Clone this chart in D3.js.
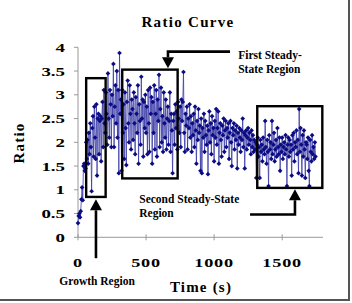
<!DOCTYPE html>
<html lang="en">
<head>
    <meta charset="UTF-8">
    <title>Ratio Curve</title>
    <script src="https://d3js.org/d3.v7.min.js"></script>
    <style>
        body {
            margin: 0;
            padding: 0;
            background: #fff;
        }

        svg text {
            font-family: "Liberation Serif", "Times New Roman", serif;
            font-weight: bold;
            fill: #000;
        }
    </style>
</head>
<body>
    <svg width="352" height="303"></svg>

    <script>
        // readings every 5 s, starting at t = 0
        const sampleStep = 5;
        const ratio = [
            0.30, 0.45, 0.50, 0.42, 0.55, 0.80, 1.05, 0.78, 1.50, 1.55,
            1.40, 1.45, 2.00, 1.65, 2.05, 1.55, 2.20, 1.75, 2.40, 1.90,
            0.97, 2.30, 2.55, 1.70, 2.75, 2.10, 1.65, 2.80, 1.30, 2.50,
            2.60, 1.75, 2.45, 2.55, 1.60, 2.50, 2.85, 1.90, 3.10, 2.40,
            2.20, 3.05, 2.60, 1.95, 3.45, 2.50, 2.10, 3.10, 2.80, 1.90,
            3.00, 2.55, 3.65, 1.90, 2.75, 3.20, 2.40, 3.50, 2.10, 3.10,
            1.35, 3.88, 2.60, 2.90, 1.40, 3.10, 2.20, 2.80, 1.65, 3.05,
            2.30, 1.52, 2.85, 3.30, 2.40, 2.00, 3.20, 2.60, 1.85, 2.90,
            2.70, 2.05, 3.05, 2.40, 1.75, 2.95, 2.60, 2.20, 3.20, 1.55,
            2.80, 2.45, 1.95, 3.38, 2.50, 2.90, 1.70, 2.85, 2.30, 3.00,
            2.20, 2.75, 1.75, 3.10, 2.40, 1.80, 3.15, 2.60, 2.95, 1.55,
            2.85, 2.20, 3.20, 1.85, 2.60, 3.10, 1.70, 2.90, 2.45, 3.42,
            1.90, 2.70, 3.15, 2.00, 2.55, 1.80, 3.05, 2.40, 2.10, 2.90,
            1.85, 2.50, 2.75, 1.95, 2.45, 3.05, 1.80, 2.60, 2.25, 1.35,
            2.45, 2.60, 1.95, 2.80, 2.30, 2.65, 1.85, 2.85, 2.50, 2.20,
            2.75, 1.90, 2.90, 2.45, 2.85, 3.48, 2.20, 1.80, 2.60, 2.35,
            2.75, 1.85, 2.50, 2.30, 2.80, 2.10, 2.55, 1.80, 2.40, 2.15,
            2.60, 1.90, 2.75, 2.25, 1.55, 2.45, 2.05, 2.70, 2.20, 2.35,
            1.40, 2.50, 1.35, 2.30, 2.10, 2.60, 1.80, 2.45, 2.15, 1.95,
            2.35, 1.33, 2.25, 2.65, 2.00, 2.40, 1.75, 2.55, 2.15, 2.30,
            1.60, 2.45, 2.10, 2.70, 1.95, 2.30, 2.65, 1.55, 2.20, 2.40,
            2.05, 1.70, 2.35, 2.15, 2.50, 1.80, 2.25, 2.45, 1.90, 2.30,
            2.10, 2.40, 1.65, 2.20, 2.45, 2.00, 1.50, 2.30, 2.15, 2.40,
            1.85, 2.25, 2.05, 2.35, 1.45, 2.20, 1.95, 2.30, 2.10, 1.80,
            2.25, 2.05, 2.50, 1.90, 2.20, 1.45, 2.15, 2.25, 1.85, 2.10,
            2.30, 1.95, 2.20, 2.05, 1.75, 2.25, 1.90, 2.15, 1.80, 2.05,
            1.85, 2.00, 1.25, 1.95, 2.10, 1.70, 1.90, 1.25, 2.05, 1.80,
            1.95, 1.60, 2.10, 1.85, 1.75, 2.45, 1.90, 1.55, 2.05, 1.80,
            1.08, 2.15, 1.85, 2.00, 1.65, 2.45, 1.75, 1.95, 2.20, 1.60,
            1.85, 2.05, 1.70, 2.30, 1.90, 1.75, 2.10, 1.40, 1.95, 1.80,
            2.10, 1.65, 1.90, 2.00, 1.75, 2.15, 1.85, 1.08, 1.95, 2.10,
            1.70, 2.05, 1.80, 1.95, 1.30, 2.15, 1.85, 2.20, 1.60, 2.00,
            1.90, 2.25, 1.75, 2.05, 1.35, 2.70, 1.80, 2.30, 1.95, 1.30,
            2.15, 1.70, 2.25, 1.85, 1.25, 2.00, 1.95, 1.65, 2.10, 1.40,
            1.08, 2.05, 1.80, 1.60, 2.15, 1.75, 1.90, 1.65, 2.00, 1.70
        ];

        const xTicks = [0, 500, 1000, 1500];
        const yTicks = [0, 0.5, 1, 1.5, 2, 2.5, 3, 3.5, 4];

        // region boxes in data units: [t0, t1, ratioLow, ratioHigh]
        const regionBoxes = [
            [60, 203, 0.85, 3.35],
            [325, 732, 1.24, 3.53],
            [1317, 1795, 1.04, 2.76]
        ];
        // arrows as polylines in data units, last point is the tip
        const regionArrows = [
            [[132, -0.44], [132, 0.80]],
            [[1117, 3.91], [661, 3.91], [661, 3.56]],
            [[1264, 0.48], [1594, 0.48], [1594, 1.01]]
        ];
        const regionLabels = [
            { lines: ["Growth Region"], t: 140, v: -1.0, anchor: "middle" },
            { lines: ["First Steady-", "State Region"], t: 1177, v: 3.75, anchor: "start" },
            { lines: ["Second Steady-State", "Region"], t: 450, v: 0.716, anchor: "start" }
        ];

        const svg = d3.select("svg");

        const x = d3.scaleLinear().domain([0, 1800]).range([78, 323]);
        const y = d3.scaleLinear().domain([0, 4]).range([237.3, 47.3]);

        const data = ratio.map((r, i) => ({ t: i * sampleStep, r: r }));

        // outer frame (right and bottom edges)
        svg.append("path")
            .attr("d", "M349,0 V300 H0")
            .attr("fill", "none")
            .attr("stroke", "#555")
            .attr("stroke-width", 2);

        // axes
        svg.append("line")
            .attr("x1", x(0)).attr("x2", x(0))
            .attr("y1", y(4)).attr("y2", y(0))
            .attr("stroke", "#999");
        svg.append("line")
            .attr("x1", x(0)).attr("x2", x(1800))
            .attr("y1", y(0)).attr("y2", y(0))
            .attr("stroke", "#999");

        svg.selectAll(".ytick")
            .data(yTicks)
            .enter()
            .append("line")
            .attr("x1", x(0) - 4).attr("x2", x(0))
            .attr("y1", d => y(d)).attr("y2", d => y(d))
            .attr("stroke", "#999");

        svg.selectAll(".xtick")
            .data(xTicks)
            .enter()
            .append("line")
            .attr("x1", d => x(d)).attr("x2", d => x(d))
            .attr("y1", y(0) - 3).attr("y2", y(0) + 3)
            .attr("stroke", "#999");

        svg.selectAll(".ylab")
            .data(yTicks)
            .enter()
            .append("text")
            .attr("transform", d => `translate(${x(0) - 13},${y(d) + 4.6}) scale(1.4,1)`)
            .attr("text-anchor", "end")
            .attr("font-size", 13.5)
            .text(d => d);

        svg.selectAll(".xlab")
            .data(xTicks)
            .enter()
            .append("text")
            .attr("transform", d => `translate(${x(d)},${y(0) + 29.5}) scale(1.35,1)`)
            .attr("text-anchor", "middle")
            .attr("font-size", 13.5)
            .attr("letter-spacing", 0.6)
            .text(d => d);

        // titles
        svg.append("text")
            .attr("x", 188).attr("y", 27)
            .attr("text-anchor", "middle")
            .attr("font-size", 15)
            .attr("letter-spacing", 1.3)
            .text("Ratio Curve");

        svg.append("text")
            .attr("transform", "translate(24,143) rotate(-90)")
            .attr("text-anchor", "middle")
            .attr("font-size", 15)
            .attr("letter-spacing", 1.2)
            .text("Ratio");

        svg.append("text")
            .attr("x", 201).attr("y", 291.5)
            .attr("text-anchor", "middle")
            .attr("font-size", 15)
            .attr("letter-spacing", 1.2)
            .text("Time (s)");

        // series
        const line = d3.line()
            .x(d => x(d.t))
            .y(d => y(d.r));

        svg.append("path")
            .datum(data)
            .attr("d", line)
            .attr("fill", "none")
            .attr("stroke", "#3a3aa6")
            .attr("stroke-width", 0.8);

        const marker = d3.symbol().type(d3.symbolSquare).size(11);
        svg.selectAll(".pt")
            .data(data)
            .enter()
            .append("path")
            .attr("d", marker)
            .attr("transform", d => `translate(${x(d.t)},${y(d.r)}) rotate(45)`)
            .attr("fill", "#0b0b82");

        // region annotations
        svg.selectAll(".box")
            .data(regionBoxes)
            .enter()
            .append("rect")
            .attr("x", d => x(d[0]))
            .attr("y", d => y(d[3]))
            .attr("width", d => x(d[1]) - x(d[0]))
            .attr("height", d => y(d[2]) - y(d[3]))
            .attr("fill", "none")
            .attr("stroke", "#000")
            .attr("stroke-width", 2.4);

        const headLen = 11, headHalf = 6;
        regionArrows.forEach(pts => {
            const p = pts.map(d => [x(d[0]), y(d[1])]);
            const tip = p[p.length - 1];
            const prev = p[p.length - 2];
            const len = Math.hypot(tip[0] - prev[0], tip[1] - prev[1]);
            const ux = (tip[0] - prev[0]) / len, uy = (tip[1] - prev[1]) / len;
            const base = [tip[0] - ux * headLen, tip[1] - uy * headLen];
            const shaft = p.slice(0, -1).concat([base]);

            svg.append("path")
                .attr("d", d3.line()(shaft))
                .attr("fill", "none")
                .attr("stroke", "#000")
                .attr("stroke-width", 2.6);

            svg.append("path")
                .attr("d", d3.line()([
                    tip,
                    [base[0] - uy * headHalf, base[1] + ux * headHalf],
                    [base[0] + uy * headHalf, base[1] - ux * headHalf]
                ]) + "Z")
                .attr("fill", "#000");
        });

        regionLabels.forEach(l => {
            const txt = svg.append("text")
                .attr("x", x(l.t))
                .attr("y", y(l.v))
                .attr("text-anchor", l.anchor)
                .attr("font-size", 11.5);
            l.lines.forEach((s, i) => {
                txt.append("tspan")
                    .attr("x", x(l.t))
                    .attr("dy", i === 0 ? 0 : 14)
                    .text(s);
            });
        });
    </script>
</body>
</html>
